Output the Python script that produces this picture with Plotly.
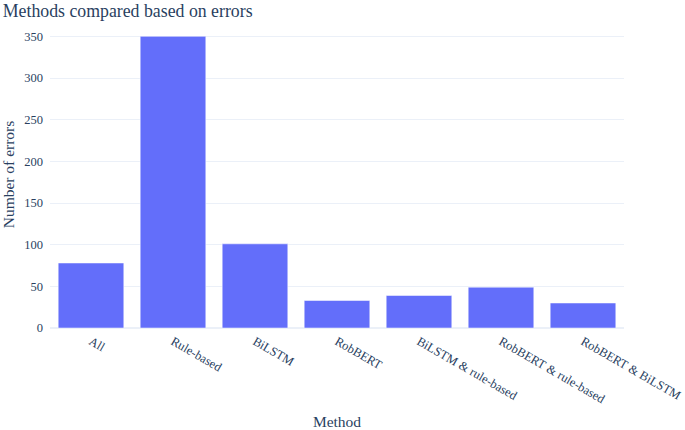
import plotly.graph_objects as go

methods = ["All", "Rule-based", "BiLSTM", "RobBERT", "BiLSTM & rule-based",
           "RobBERT & rule-based", "RobBERT & BiLSTM"]
errors = [78, 350, 101, 33, 39, 49, 30]
y_ticks = [0, 50, 100, 150, 200, 250, 300, 350]

serif = "Liberation Serif, Times New Roman, serif"

fig = go.Figure(go.Bar(x=methods, y=errors, marker_color="#636efa"))
fig.update_layout(
    template="plotly_white",
    width=685, height=430,
    font=dict(family=serif, size=12.5, color="#2a3f5f"),
    title=dict(text="Methods compared based on errors", x=0.004, xanchor="left",
               xref="container", yref="container",
               y=0.99, yanchor="top", font=dict(size=17.8)),
    margin=dict(l=50, r=61, t=21, b=102),
    xaxis=dict(title=dict(text="Method", standoff=12, font=dict(size=15.5)),
               tickangle=30, automargin=False, ticklabelstandoff=3),
    yaxis=dict(title=dict(text="Number of errors", standoff=8, font=dict(size=15.5)),
               automargin=False, tickvals=y_ticks, ticklabelstandoff=6),
    bargap=0.2,
)
fig.write_html("out.html", config={"displayModeBar": False},
               post_script="document.body.style.margin='0';")
